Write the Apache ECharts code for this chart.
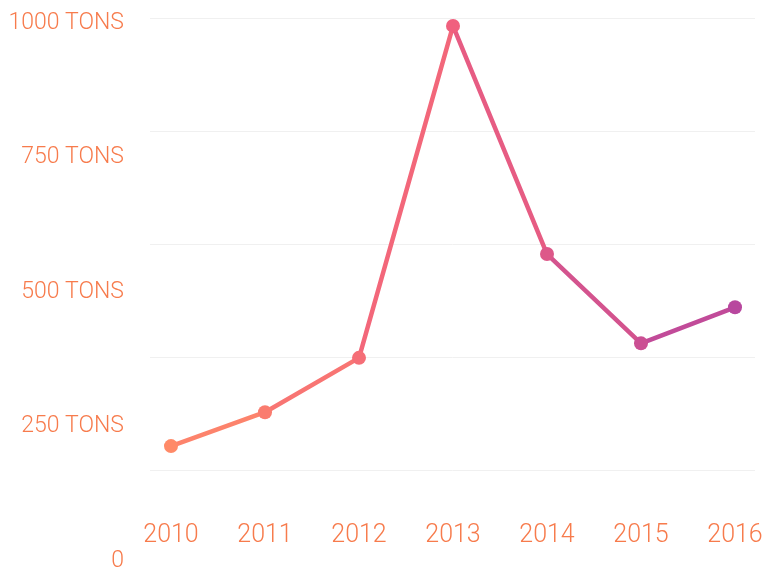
<!DOCTYPE html>
<html>
<head>
<meta charset="utf-8">
<script src="https://cdn.jsdelivr.net/npm/echarts@6/dist/echarts.min.js"></script>
<style>
  html, body { margin: 0; padding: 0; background: #fff; }
  #chart { width: 766px; height: 570px; }
</style>
</head>
<body>
<div id="chart"></div>
<script>
// 연도별 톤수
const years = ['2010', '2011', '2012', '2013', '2014', '2015', '2016'];
const tons = [208, 271, 372, 989, 565, 399, 466];
const yTicks = [0, 250, 500, 750, 1000];
const lineColors = ['#ff8a68', '#f0607e', '#b8479e'];

const labelColor = '#f77b4c';
const labelFont = 'Roboto';

const chart = echarts.init(document.getElementById('chart'));

chart.setOption({
  animation: false,
  backgroundColor: '#fff',
  grid: [
    // 데이터 그리드
    { left: 171, right: 31, top: 20, bottom: 12, outerBoundsMode: 'none' },
    // 배경 가로선 전용 그리드
    { left: 150, right: 11, top: 18, bottom: 100, outerBoundsMode: 'none' }
  ],
  visualMap: {
    show: false,
    type: 'continuous',
    dimension: 0,
    seriesIndex: 0,
    min: 0,
    max: years.length - 1,
    inRange: { color: lineColors }
  },
  xAxis: [
    {
      type: 'category',
      data: years,
      boundaryGap: false,
      gridIndex: 0,
      axisLine: { show: false },
      axisTick: { show: false },
      axisLabel: {
        color: labelColor,
        fontFamily: labelFont,
        fontWeight: 300,
        fontSize: 25,
        verticalAlign: 'middle',
        margin: -22
      }
    },
    {
      type: 'value',
      gridIndex: 1,
      show: false
    }
  ],
  yAxis: [
    {
      type: 'value',
      gridIndex: 0,
      min: 0,
      max: 1000,
      interval: 250,
      splitLine: { show: false },
      axisLine: { show: false },
      axisTick: { show: false },
      axisLabel: {
        color: labelColor,
        fontFamily: labelFont,
        fontWeight: 300,
        fontSize: 23,
        margin: 47,
        verticalAlign: 'top',
        lineHeight: 6,
        formatter: v => (yTicks.includes(v) && v > 0 ? v + ' TONS' : String(v))
      }
    },
    {
      type: 'value',
      gridIndex: 1,
      min: 0,
      max: 4,
      interval: 1,
      axisLine: { show: false },
      axisTick: { show: false },
      axisLabel: { show: false },
      splitLine: {
        show: true,
        showMinLine: true,
        showMaxLine: true,
        lineStyle: { color: '#f0f0f0', width: 1 }
      }
    }
  ],
  series: [
    {
      type: 'line',
      xAxisIndex: 0,
      yAxisIndex: 0,
      data: tons,
      symbol: 'circle',
      symbolSize: 14,
      lineStyle: { width: 4.5 },
      z: 5
    }
  ]
});
</script>
</body>
</html>
